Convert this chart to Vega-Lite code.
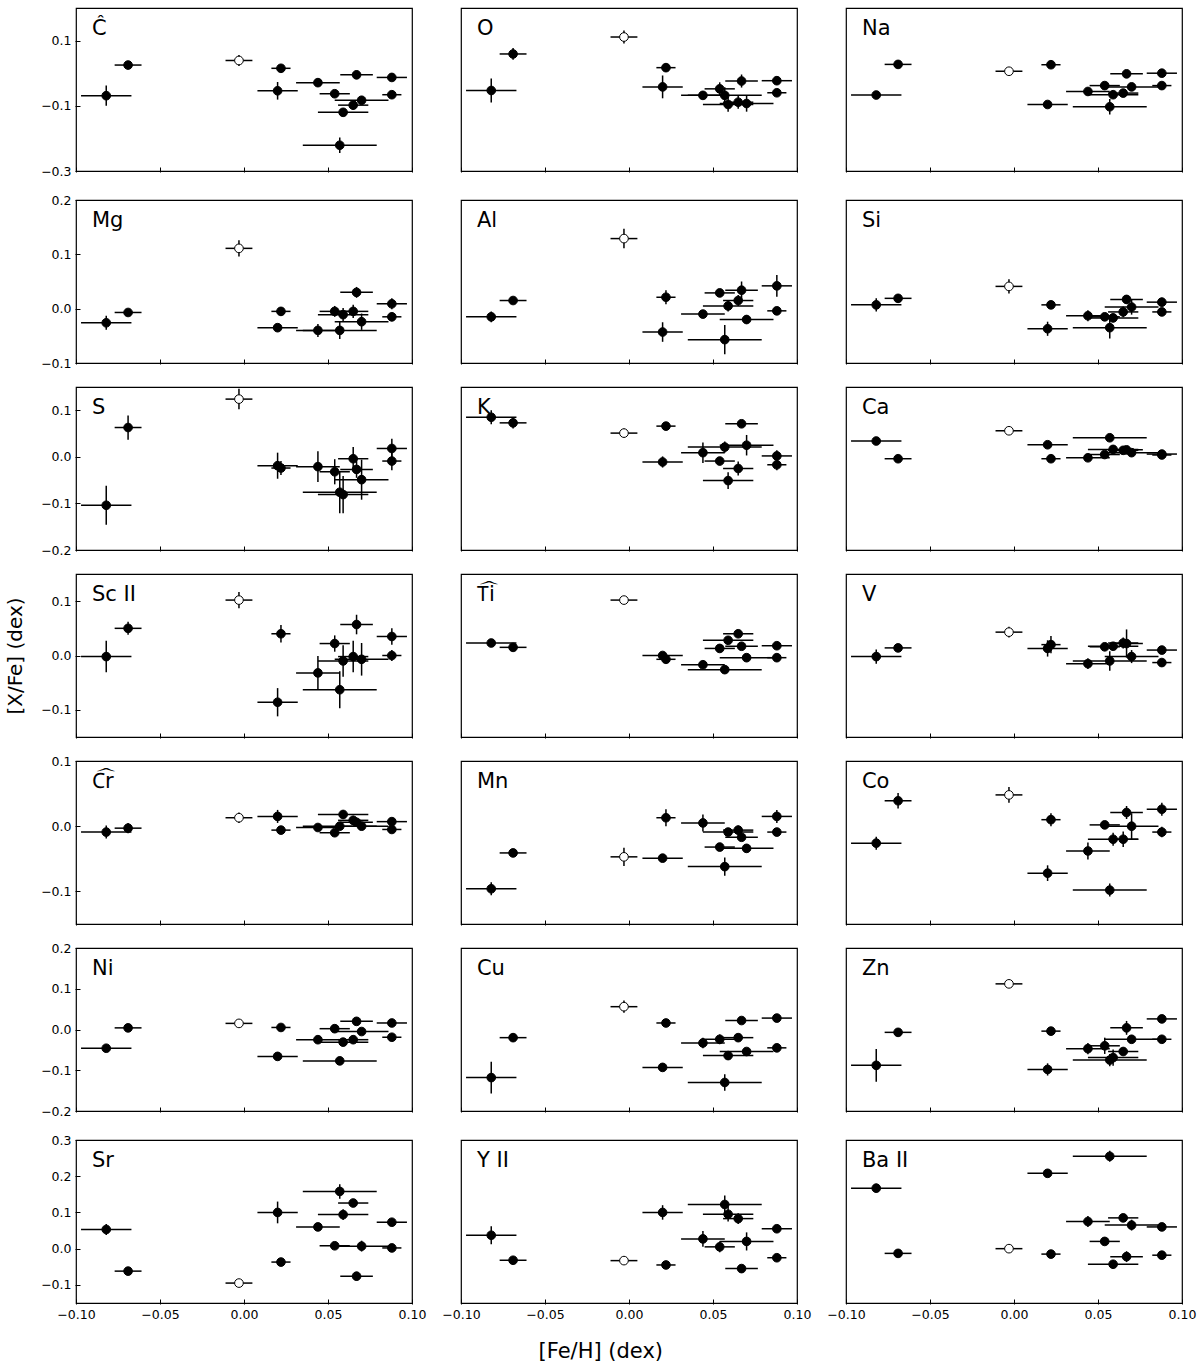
{
"$schema": "https://vega.github.io/schema/vega-lite/v6.json",
"padding": {"left": 5, "top": 7, "right": 17, "bottom": 4},
"background": "white",
"title": {"text": "[Fe/H] (dex)", "orient": "bottom", "anchor": "middle", "fontSize": 21, "fontWeight": "normal", "font": "DejaVu Sans", "offset": 20, "color": "black"},
"datasets": {
"stars": [
{"s":"A","feh":-0.082,"fe":0.015,"open":false},
{"s":"B","feh":-0.069,"fe":0.008,"open":false},
{"s":"O","feh":-0.003,"fe":0.008,"open":true},
{"s":"C","feh":0.020,"fe":0.012,"open":false},
{"s":"D","feh":0.022,"fe":0.0057,"open":false},
{"s":"E","feh":0.044,"fe":0.013,"open":false},
{"s":"F","feh":0.054,"fe":0.009,"open":false},
{"s":"G","feh":0.057,"fe":0.022,"open":false},
{"s":"H","feh":0.059,"fe":0.015,"open":false},
{"s":"I","feh":0.065,"fe":0.009,"open":false},
{"s":"J","feh":0.067,"fe":0.0097,"open":false},
{"s":"K","feh":0.070,"fe":0.016,"open":false},
{"s":"L","feh":0.088,"fe":0.009,"open":false},
{"s":"M","feh":0.088,"fe":0.0057,"open":false}
],
"ab": [
{"e":"C\u0302","s":"A","y":-0.069,"ye":0.031},{"e":"C\u0302","s":"B","y":0.025,"ye":0.008},{"e":"C\u0302","s":"O","y":0.039,"ye":0.017},{"e":"C\u0302","s":"C","y":-0.054,"ye":0.027},{"e":"C\u0302","s":"D","y":0.015,"ye":0.008},{"e":"C\u0302","s":"E","y":-0.029,"ye":0.012},{"e":"C\u0302","s":"F","y":-0.063,"ye":0.008},{"e":"C\u0302","s":"G","y":-0.221,"ye":0.024},{"e":"C\u0302","s":"H","y":-0.120,"ye":0.010},{"e":"C\u0302","s":"I","y":-0.098,"ye":0.014},{"e":"C\u0302","s":"J","y":-0.005,"ye":0.013},{"e":"C\u0302","s":"K","y":-0.083,"ye":0.013},{"e":"C\u0302","s":"L","y":-0.013,"ye":0.010},{"e":"C\u0302","s":"M","y":-0.066,"ye":0.008},
{"e":"O","s":"A","y":-0.053,"ye":0.037},{"e":"O","s":"B","y":0.059,"ye":0.018},{"e":"O","s":"O","y":0.111,"ye":0.020},{"e":"O","s":"C","y":-0.042,"ye":0.035},{"e":"O","s":"D","y":0.017,"ye":0.013},{"e":"O","s":"E","y":-0.068,"ye":0.012},{"e":"O","s":"F","y":-0.048,"ye":0.020},{"e":"O","s":"G","y":-0.068,"ye":0.025},{"e":"O","s":"H","y":-0.096,"ye":0.022},{"e":"O","s":"I","y":-0.089,"ye":0.020},{"e":"O","s":"J","y":-0.024,"ye":0.020},{"e":"O","s":"K","y":-0.093,"ye":0.025},{"e":"O","s":"L","y":-0.023,"ye":0.012},{"e":"O","s":"M","y":-0.060,"ye":0.010},
{"e":"Na","s":"A","y":-0.067,"ye":0.006},{"e":"Na","s":"B","y":0.027,"ye":0.006},{"e":"Na","s":"O","y":0.006,"ye":0.006},{"e":"Na","s":"C","y":-0.096,"ye":0.006},{"e":"Na","s":"D","y":0.026,"ye":0.006},{"e":"Na","s":"E","y":-0.056,"ye":0.012},{"e":"Na","s":"F","y":-0.038,"ye":0.008},{"e":"Na","s":"G","y":-0.103,"ye":0.024},{"e":"Na","s":"H","y":-0.066,"ye":0.008},{"e":"Na","s":"I","y":-0.061,"ye":0.008},{"e":"Na","s":"J","y":-0.002,"ye":0.012},{"e":"Na","s":"K","y":-0.042,"ye":0.008},{"e":"Na","s":"L","y":0.000,"ye":0.008},{"e":"Na","s":"M","y":-0.038,"ye":0.006},
{"e":"Mg","s":"A","y":-0.026,"ye":0.013},{"e":"Mg","s":"B","y":-0.007,"ye":0.005},{"e":"Mg","s":"O","y":0.111,"ye":0.015},{"e":"Mg","s":"C","y":-0.035,"ye":0.005},{"e":"Mg","s":"D","y":-0.005,"ye":0.008},{"e":"Mg","s":"E","y":-0.040,"ye":0.012},{"e":"Mg","s":"F","y":-0.005,"ye":0.010},{"e":"Mg","s":"G","y":-0.040,"ye":0.016},{"e":"Mg","s":"H","y":-0.011,"ye":0.012},{"e":"Mg","s":"I","y":-0.005,"ye":0.012},{"e":"Mg","s":"J","y":0.030,"ye":0.010},{"e":"Mg","s":"K","y":-0.024,"ye":0.015},{"e":"Mg","s":"L","y":0.009,"ye":0.010},{"e":"Mg","s":"M","y":-0.015,"ye":0.008},
{"e":"Al","s":"A","y":-0.015,"ye":0.010},{"e":"Al","s":"B","y":0.015,"ye":0.005},{"e":"Al","s":"O","y":0.129,"ye":0.018},{"e":"Al","s":"C","y":-0.043,"ye":0.018},{"e":"Al","s":"D","y":0.021,"ye":0.013},{"e":"Al","s":"E","y":-0.010,"ye":0.005},{"e":"Al","s":"F","y":0.029,"ye":0.005},{"e":"Al","s":"G","y":-0.057,"ye":0.027},{"e":"Al","s":"H","y":0.005,"ye":0.010},{"e":"Al","s":"I","y":0.015,"ye":0.010},{"e":"Al","s":"J","y":0.034,"ye":0.016},{"e":"Al","s":"K","y":-0.020,"ye":0.008},{"e":"Al","s":"L","y":0.042,"ye":0.020},{"e":"Al","s":"M","y":-0.004,"ye":0.005},
{"e":"Si","s":"A","y":0.007,"ye":0.012},{"e":"Si","s":"B","y":0.019,"ye":0.008},{"e":"Si","s":"O","y":0.041,"ye":0.013},{"e":"Si","s":"C","y":-0.037,"ye":0.013},{"e":"Si","s":"D","y":0.007,"ye":0.005},{"e":"Si","s":"E","y":-0.013,"ye":0.010},{"e":"Si","s":"F","y":-0.015,"ye":0.006},{"e":"Si","s":"G","y":-0.035,"ye":0.020},{"e":"Si","s":"H","y":-0.017,"ye":0.008},{"e":"Si","s":"I","y":-0.006,"ye":0.010},{"e":"Si","s":"J","y":0.017,"ye":0.008},{"e":"Si","s":"K","y":0.003,"ye":0.014},{"e":"Si","s":"L","y":0.012,"ye":0.008},{"e":"Si","s":"M","y":-0.006,"ye":0.006},
{"e":"S","s":"A","y":-0.104,"ye":0.042},{"e":"S","s":"B","y":0.063,"ye":0.026},{"e":"S","s":"O","y":0.124,"ye":0.022},{"e":"S","s":"C","y":-0.019,"ye":0.028},{"e":"S","s":"D","y":-0.024,"ye":0.015},{"e":"S","s":"E","y":-0.021,"ye":0.033},{"e":"S","s":"F","y":-0.032,"ye":0.027},{"e":"S","s":"G","y":-0.076,"ye":0.045},{"e":"S","s":"H","y":-0.081,"ye":0.040},{"e":"S","s":"I","y":-0.004,"ye":0.025},{"e":"S","s":"J","y":-0.027,"ye":0.018},{"e":"S","s":"K","y":-0.049,"ye":0.043},{"e":"S","s":"L","y":0.018,"ye":0.021},{"e":"S","s":"M","y":-0.009,"ye":0.020},
{"e":"K","s":"A","y":0.085,"ye":0.015},{"e":"K","s":"B","y":0.073,"ye":0.012},{"e":"K","s":"O","y":0.051,"ye":0.010},{"e":"K","s":"C","y":-0.011,"ye":0.012},{"e":"K","s":"D","y":0.066,"ye":0.008},{"e":"K","s":"E","y":0.009,"ye":0.022},{"e":"K","s":"F","y":-0.009,"ye":0.008},{"e":"K","s":"G","y":0.021,"ye":0.012},{"e":"K","s":"H","y":-0.051,"ye":0.018},{"e":"K","s":"I","y":-0.025,"ye":0.015},{"e":"K","s":"J","y":0.071,"ye":0.008},{"e":"K","s":"K","y":0.025,"ye":0.022},{"e":"K","s":"L","y":0.002,"ye":0.012},{"e":"K","s":"M","y":-0.017,"ye":0.012},
{"e":"Ca","s":"A","y":0.034,"ye":0.004},{"e":"Ca","s":"B","y":-0.004,"ye":0.004},{"e":"Ca","s":"O","y":0.056,"ye":0.005},{"e":"Ca","s":"C","y":0.026,"ye":0.005},{"e":"Ca","s":"D","y":-0.004,"ye":0.004},{"e":"Ca","s":"E","y":-0.002,"ye":0.005},{"e":"Ca","s":"F","y":0.005,"ye":0.004},{"e":"Ca","s":"G","y":0.041,"ye":0.005},{"e":"Ca","s":"H","y":0.016,"ye":0.004},{"e":"Ca","s":"I","y":0.014,"ye":0.004},{"e":"Ca","s":"J","y":0.015,"ye":0.004},{"e":"Ca","s":"K","y":0.009,"ye":0.004},{"e":"Ca","s":"L","y":0.006,"ye":0.004},{"e":"Ca","s":"M","y":0.004,"ye":0.004},
{"e":"Sc II","s":"A","y":-0.002,"ye":0.029},{"e":"Sc II","s":"B","y":0.050,"ye":0.012},{"e":"Sc II","s":"O","y":0.102,"ye":0.015},{"e":"Sc II","s":"C","y":-0.086,"ye":0.026},{"e":"Sc II","s":"D","y":0.040,"ye":0.016},{"e":"Sc II","s":"E","y":-0.032,"ye":0.031},{"e":"Sc II","s":"F","y":0.022,"ye":0.015},{"e":"Sc II","s":"G","y":-0.063,"ye":0.034},{"e":"Sc II","s":"H","y":-0.010,"ye":0.029},{"e":"Sc II","s":"I","y":-0.002,"ye":0.029},{"e":"Sc II","s":"J","y":0.057,"ye":0.018},{"e":"Sc II","s":"K","y":-0.007,"ye":0.030},{"e":"Sc II","s":"L","y":0.035,"ye":0.015},{"e":"Sc II","s":"M","y":0.000,"ye":0.010},
{"e":"T\u1DCDi","s":"A","y":0.023,"ye":0.006},{"e":"T\u1DCDi","s":"B","y":0.015,"ye":0.006},{"e":"T\u1DCDi","s":"O","y":0.102,"ye":0.007},{"e":"T\u1DCDi","s":"C","y":0.000,"ye":0.005},{"e":"T\u1DCDi","s":"D","y":-0.007,"ye":0.004},{"e":"T\u1DCDi","s":"E","y":-0.017,"ye":0.005},{"e":"T\u1DCDi","s":"F","y":0.013,"ye":0.005},{"e":"T\u1DCDi","s":"G","y":-0.026,"ye":0.007},{"e":"T\u1DCDi","s":"H","y":0.028,"ye":0.005},{"e":"T\u1DCDi","s":"I","y":0.040,"ye":0.005},{"e":"T\u1DCDi","s":"J","y":0.017,"ye":0.005},{"e":"T\u1DCDi","s":"K","y":-0.004,"ye":0.005},{"e":"T\u1DCDi","s":"L","y":0.018,"ye":0.005},{"e":"T\u1DCDi","s":"M","y":-0.004,"ye":0.005},
{"e":"V","s":"A","y":-0.002,"ye":0.013},{"e":"V","s":"B","y":0.014,"ye":0.007},{"e":"V","s":"O","y":0.043,"ye":0.010},{"e":"V","s":"C","y":0.013,"ye":0.015},{"e":"V","s":"D","y":0.020,"ye":0.016},{"e":"V","s":"E","y":-0.015,"ye":0.010},{"e":"V","s":"F","y":0.016,"ye":0.007},{"e":"V","s":"G","y":-0.010,"ye":0.018},{"e":"V","s":"H","y":0.017,"ye":0.007},{"e":"V","s":"I","y":0.023,"ye":0.010},{"e":"V","s":"J","y":0.022,"ye":0.026},{"e":"V","s":"K","y":-0.002,"ye":0.012},{"e":"V","s":"L","y":0.010,"ye":0.006},{"e":"V","s":"M","y":-0.013,"ye":0.006},
{"e":"C\u1DCDr","s":"A","y":-0.009,"ye":0.010},{"e":"C\u1DCDr","s":"B","y":-0.003,"ye":0.008},{"e":"C\u1DCDr","s":"O","y":0.013,"ye":0.008},{"e":"C\u1DCDr","s":"C","y":0.015,"ye":0.010},{"e":"C\u1DCDr","s":"D","y":-0.006,"ye":0.005},{"e":"C\u1DCDr","s":"E","y":-0.002,"ye":0.005},{"e":"C\u1DCDr","s":"F","y":-0.010,"ye":0.005},{"e":"C\u1DCDr","s":"G","y":0.000,"ye":0.006},{"e":"C\u1DCDr","s":"H","y":0.018,"ye":0.007},{"e":"C\u1DCDr","s":"I","y":0.009,"ye":0.007},{"e":"C\u1DCDr","s":"J","y":0.006,"ye":0.006},{"e":"C\u1DCDr","s":"K","y":0.000,"ye":0.006},{"e":"C\u1DCDr","s":"L","y":0.007,"ye":0.005},{"e":"C\u1DCDr","s":"M","y":-0.005,"ye":0.005},
{"e":"Mn","s":"A","y":-0.096,"ye":0.010},{"e":"Mn","s":"B","y":-0.041,"ye":0.004},{"e":"Mn","s":"O","y":-0.047,"ye":0.014},{"e":"Mn","s":"C","y":-0.049,"ye":0.005},{"e":"Mn","s":"D","y":0.013,"ye":0.013},{"e":"Mn","s":"E","y":0.005,"ye":0.013},{"e":"Mn","s":"F","y":-0.032,"ye":0.006},{"e":"Mn","s":"G","y":-0.062,"ye":0.014},{"e":"Mn","s":"H","y":-0.009,"ye":0.006},{"e":"Mn","s":"I","y":-0.006,"ye":0.007},{"e":"Mn","s":"J","y":-0.017,"ye":0.006},{"e":"Mn","s":"K","y":-0.034,"ye":0.006},{"e":"Mn","s":"L","y":0.015,"ye":0.010},{"e":"Mn","s":"M","y":-0.009,"ye":0.005},
{"e":"Co","s":"A","y":-0.026,"ye":0.010},{"e":"Co","s":"B","y":0.039,"ye":0.012},{"e":"Co","s":"O","y":0.048,"ye":0.012},{"e":"Co","s":"C","y":-0.072,"ye":0.012},{"e":"Co","s":"D","y":0.010,"ye":0.010},{"e":"Co","s":"E","y":-0.038,"ye":0.013},{"e":"Co","s":"F","y":0.002,"ye":0.006},{"e":"Co","s":"G","y":-0.098,"ye":0.010},{"e":"Co","s":"H","y":-0.020,"ye":0.010},{"e":"Co","s":"I","y":-0.020,"ye":0.012},{"e":"Co","s":"J","y":0.021,"ye":0.010},{"e":"Co","s":"K","y":0.000,"ye":0.020},{"e":"Co","s":"L","y":0.026,"ye":0.010},{"e":"Co","s":"M","y":-0.009,"ye":0.008},
{"e":"Ni","s":"A","y":-0.046,"ye":0.005},{"e":"Ni","s":"B","y":0.004,"ye":0.005},{"e":"Ni","s":"O","y":0.015,"ye":0.008},{"e":"Ni","s":"C","y":-0.066,"ye":0.005},{"e":"Ni","s":"D","y":0.005,"ye":0.006},{"e":"Ni","s":"E","y":-0.025,"ye":0.005},{"e":"Ni","s":"F","y":0.002,"ye":0.006},{"e":"Ni","s":"G","y":-0.077,"ye":0.010},{"e":"Ni","s":"H","y":-0.031,"ye":0.005},{"e":"Ni","s":"I","y":-0.025,"ye":0.006},{"e":"Ni","s":"J","y":0.020,"ye":0.006},{"e":"Ni","s":"K","y":-0.005,"ye":0.005},{"e":"Ni","s":"L","y":0.016,"ye":0.005},{"e":"Ni","s":"M","y":-0.019,"ye":0.005},
{"e":"Cu","s":"A","y":-0.118,"ye":0.039},{"e":"Cu","s":"B","y":-0.020,"ye":0.010},{"e":"Cu","s":"O","y":0.056,"ye":0.015},{"e":"Cu","s":"C","y":-0.093,"ye":0.005},{"e":"Cu","s":"D","y":0.016,"ye":0.008},{"e":"Cu","s":"E","y":-0.033,"ye":0.013},{"e":"Cu","s":"F","y":-0.024,"ye":0.012},{"e":"Cu","s":"G","y":-0.130,"ye":0.020},{"e":"Cu","s":"H","y":-0.064,"ye":0.010},{"e":"Cu","s":"I","y":-0.020,"ye":0.007},{"e":"Cu","s":"J","y":0.022,"ye":0.005},{"e":"Cu","s":"K","y":-0.054,"ye":0.008},{"e":"Cu","s":"L","y":0.028,"ye":0.005},{"e":"Cu","s":"M","y":-0.045,"ye":0.010},
{"e":"Zn","s":"A","y":-0.088,"ye":0.040},{"e":"Zn","s":"B","y":-0.007,"ye":0.005},{"e":"Zn","s":"O","y":0.112,"ye":0.010},{"e":"Zn","s":"C","y":-0.098,"ye":0.015},{"e":"Zn","s":"D","y":-0.004,"ye":0.010},{"e":"Zn","s":"E","y":-0.047,"ye":0.014},{"e":"Zn","s":"F","y":-0.040,"ye":0.020},{"e":"Zn","s":"G","y":-0.075,"ye":0.015},{"e":"Zn","s":"H","y":-0.069,"ye":0.020},{"e":"Zn","s":"I","y":-0.054,"ye":0.010},{"e":"Zn","s":"J","y":0.004,"ye":0.017},{"e":"Zn","s":"K","y":-0.024,"ye":0.010},{"e":"Zn","s":"L","y":0.026,"ye":0.005},{"e":"Zn","s":"M","y":-0.024,"ye":0.005},
{"e":"Sr","s":"A","y":0.053,"ye":0.015},{"e":"Sr","s":"B","y":-0.062,"ye":0.006},{"e":"Sr","s":"O","y":-0.095,"ye":0.008},{"e":"Sr","s":"C","y":0.100,"ye":0.030},{"e":"Sr","s":"D","y":-0.037,"ye":0.010},{"e":"Sr","s":"E","y":0.060,"ye":0.008},{"e":"Sr","s":"F","y":0.008,"ye":0.010},{"e":"Sr","s":"G","y":0.158,"ye":0.020},{"e":"Sr","s":"H","y":0.094,"ye":0.015},{"e":"Sr","s":"I","y":0.126,"ye":0.010},{"e":"Sr","s":"J","y":-0.076,"ye":0.012},{"e":"Sr","s":"K","y":0.007,"ye":0.015},{"e":"Sr","s":"L","y":0.073,"ye":0.008},{"e":"Sr","s":"M","y":0.002,"ye":0.008},
{"e":"Y II","s":"A","y":0.037,"ye":0.025},{"e":"Y II","s":"B","y":-0.032,"ye":0.010},{"e":"Y II","s":"O","y":-0.033,"ye":0.012},{"e":"Y II","s":"C","y":0.100,"ye":0.020},{"e":"Y II","s":"D","y":-0.045,"ye":0.008},{"e":"Y II","s":"E","y":0.027,"ye":0.022},{"e":"Y II","s":"F","y":0.005,"ye":0.015},{"e":"Y II","s":"G","y":0.122,"ye":0.025},{"e":"Y II","s":"H","y":0.095,"ye":0.020},{"e":"Y II","s":"I","y":0.083,"ye":0.015},{"e":"Y II","s":"J","y":-0.055,"ye":0.010},{"e":"Y II","s":"K","y":0.020,"ye":0.025},{"e":"Y II","s":"L","y":0.055,"ye":0.010},{"e":"Y II","s":"M","y":-0.025,"ye":0.010},
{"e":"Ba II","s":"A","y":0.167,"ye":0.012},{"e":"Ba II","s":"B","y":-0.013,"ye":0.006},{"e":"Ba II","s":"O","y":0.000,"ye":0.008},{"e":"Ba II","s":"C","y":0.208,"ye":0.010},{"e":"Ba II","s":"D","y":-0.015,"ye":0.008},{"e":"Ba II","s":"E","y":0.075,"ye":0.015},{"e":"Ba II","s":"F","y":0.020,"ye":0.008},{"e":"Ba II","s":"G","y":0.255,"ye":0.015},{"e":"Ba II","s":"H","y":-0.043,"ye":0.012},{"e":"Ba II","s":"I","y":0.085,"ye":0.010},{"e":"Ba II","s":"J","y":-0.022,"ye":0.015},{"e":"Ba II","s":"K","y":0.065,"ye":0.015},{"e":"Ba II","s":"L","y":0.060,"ye":0.006},{"e":"Ba II","s":"M","y":-0.018,"ye":0.006}
]
},
"data": {"name": "ab"},
"transform": [{"lookup": "s", "from": {"data": {"name": "stars"}, "key": "s", "fields": ["feh", "fe", "open"]}}],
"spacing": 16,
"vconcat": [
{"transform": [{"filter": {"field": "e", "oneOf": ["C\u0302","O","Na"]}}],
 "facet": {"column": {"field": "e", "type": "nominal", "sort": ["C\u0302","O","Na"], "header": {"labels": false, "title": null}}},
 "spacing": 47,
 "spec": {"width": 336, "height": 163,
  "layer": [
   {"mark": {"type": "errorbar", "color": "black", "thickness": 1.5}, "encoding": {"x": {"field": "feh", "type": "quantitative", "title": null, "scale": {"domain": [-0.1, 0.1], "nice": false, "zero": false}, "axis": {"values": [-0.1,-0.05,0,0.05,0.1], "labels": false}}, "y": {"field": "y", "type": "quantitative", "title": "[X/Fe] (dex)", "scale": {"domain": [-0.3, 0.2], "nice": false, "zero": false}, "axis": {"values": [-0.3,-0.2,-0.1,0,0.1,0.2], "format": ".1f", "titleOpacity": 0, "labelOverlap": false, "labelSeparation": -40}}, "xError": {"field": "fe"}}},
   {"mark": {"type": "errorbar", "color": "black", "thickness": 1.5}, "encoding": {"x": {"field": "feh", "type": "quantitative", "title": null}, "y": {"field": "y", "type": "quantitative", "title": "[X/Fe] (dex)", "axis": {"labelOverlap": false}}, "yError": {"field": "ye"}}},
   {"mark": {"type": "point", "shape": "circle", "filled": true, "size": 75, "stroke": "black", "strokeWidth": 1, "opacity": 1}, "encoding": {"x": {"field": "feh", "type": "quantitative", "title": null}, "y": {"field": "y", "type": "quantitative", "title": "[X/Fe] (dex)", "axis": {"labelOverlap": false}}, "fill": {"condition": {"test": "datum.open", "value": "white"}, "value": "black"}}},
   {"transform": [{"filter": "datum.s == 'A'"}], "mark": {"type": "text", "align": "left", "baseline": "alphabetic", "fontSize": 21, "font": "DejaVu Sans", "color": "black"}, "encoding": {"x": {"datum": -0.0905, "type": "quantitative"}, "y": {"datum": 0.116, "type": "quantitative"}, "text": {"field": "e"}}}
  ]}},
{"transform": [{"filter": {"field": "e", "oneOf": ["Mg","Al","Si"]}}],
 "facet": {"column": {"field": "e", "type": "nominal", "sort": ["Mg","Al","Si"], "header": {"labels": false, "title": null}}},
 "spacing": 47,
 "spec": {"width": 336, "height": 163,
  "layer": [
   {"mark": {"type": "errorbar", "color": "black", "thickness": 1.5}, "encoding": {"x": {"field": "feh", "type": "quantitative", "title": null, "scale": {"domain": [-0.1, 0.1], "nice": false, "zero": false}, "axis": {"values": [-0.1,-0.05,0,0.05,0.1], "labels": false}}, "y": {"field": "y", "type": "quantitative", "title": "[X/Fe] (dex)", "scale": {"domain": [-0.1, 0.2], "nice": false, "zero": false}, "axis": {"values": [-0.1,0,0.1,0.2], "format": ".1f", "titleOpacity": 0}}, "xError": {"field": "fe"}}},
   {"mark": {"type": "errorbar", "color": "black", "thickness": 1.5}, "encoding": {"x": {"field": "feh", "type": "quantitative", "title": null}, "y": {"field": "y", "type": "quantitative", "title": "[X/Fe] (dex)"}, "yError": {"field": "ye"}}},
   {"mark": {"type": "point", "shape": "circle", "filled": true, "size": 75, "stroke": "black", "strokeWidth": 1, "opacity": 1}, "encoding": {"x": {"field": "feh", "type": "quantitative", "title": null}, "y": {"field": "y", "type": "quantitative", "title": "[X/Fe] (dex)"}, "fill": {"condition": {"test": "datum.open", "value": "white"}, "value": "black"}}},
   {"transform": [{"filter": "datum.s == 'A'"}], "mark": {"type": "text", "align": "left", "baseline": "alphabetic", "fontSize": 21, "font": "DejaVu Sans", "color": "black"}, "encoding": {"x": {"datum": -0.0905, "type": "quantitative"}, "y": {"datum": 0.15, "type": "quantitative"}, "text": {"field": "e"}}}
  ]}},
{"transform": [{"filter": {"field": "e", "oneOf": ["S","K","Ca"]}}],
 "facet": {"column": {"field": "e", "type": "nominal", "sort": ["S","K","Ca"], "header": {"labels": false, "title": null}}},
 "spacing": 47,
 "spec": {"width": 336, "height": 163,
  "layer": [
   {"mark": {"type": "errorbar", "color": "black", "thickness": 1.5}, "encoding": {"x": {"field": "feh", "type": "quantitative", "title": null, "scale": {"domain": [-0.1, 0.1], "nice": false, "zero": false}, "axis": {"values": [-0.1,-0.05,0,0.05,0.1], "labels": false}}, "y": {"field": "y", "type": "quantitative", "title": "[X/Fe] (dex)", "scale": {"domain": [-0.2, 0.15], "nice": false, "zero": false}, "axis": {"values": [-0.2,-0.1,0,0.1], "format": ".1f", "titleOpacity": 0}}, "xError": {"field": "fe"}}},
   {"mark": {"type": "errorbar", "color": "black", "thickness": 1.5}, "encoding": {"x": {"field": "feh", "type": "quantitative", "title": null}, "y": {"field": "y", "type": "quantitative", "title": "[X/Fe] (dex)"}, "yError": {"field": "ye"}}},
   {"mark": {"type": "point", "shape": "circle", "filled": true, "size": 75, "stroke": "black", "strokeWidth": 1, "opacity": 1}, "encoding": {"x": {"field": "feh", "type": "quantitative", "title": null}, "y": {"field": "y", "type": "quantitative", "title": "[X/Fe] (dex)"}, "fill": {"condition": {"test": "datum.open", "value": "white"}, "value": "black"}}},
   {"transform": [{"filter": "datum.s == 'A'"}], "mark": {"type": "text", "align": "left", "baseline": "alphabetic", "fontSize": 21, "font": "DejaVu Sans", "color": "black"}, "encoding": {"x": {"datum": -0.0905, "type": "quantitative"}, "y": {"datum": 0.091, "type": "quantitative"}, "text": {"field": "e"}}}
  ]}},
{"transform": [{"filter": {"field": "e", "oneOf": ["Sc II","T\u1DCDi","V"]}}],
 "facet": {"column": {"field": "e", "type": "nominal", "sort": ["Sc II","T\u1DCDi","V"], "header": {"labels": false, "title": null}}},
 "spacing": 47,
 "spec": {"width": 336, "height": 163,
  "layer": [
   {"mark": {"type": "errorbar", "color": "black", "thickness": 1.5}, "encoding": {"x": {"field": "feh", "type": "quantitative", "title": null, "scale": {"domain": [-0.1, 0.1], "nice": false, "zero": false}, "axis": {"values": [-0.1,-0.05,0,0.05,0.1], "labels": false}}, "y": {"field": "y", "type": "quantitative", "title": "[X/Fe] (dex)", "scale": {"domain": [-0.15, 0.15], "nice": false, "zero": false}, "axis": {"values": [-0.1,0,0.1], "format": ".1f", "titleOpacity": 1}}, "xError": {"field": "fe"}}},
   {"mark": {"type": "errorbar", "color": "black", "thickness": 1.5}, "encoding": {"x": {"field": "feh", "type": "quantitative", "title": null}, "y": {"field": "y", "type": "quantitative", "title": "[X/Fe] (dex)"}, "yError": {"field": "ye"}}},
   {"mark": {"type": "point", "shape": "circle", "filled": true, "size": 75, "stroke": "black", "strokeWidth": 1, "opacity": 1}, "encoding": {"x": {"field": "feh", "type": "quantitative", "title": null}, "y": {"field": "y", "type": "quantitative", "title": "[X/Fe] (dex)"}, "fill": {"condition": {"test": "datum.open", "value": "white"}, "value": "black"}}},
   {"transform": [{"filter": "datum.s == 'A'"}], "mark": {"type": "text", "align": "left", "baseline": "alphabetic", "fontSize": 21, "font": "DejaVu Sans", "color": "black"}, "encoding": {"x": {"datum": -0.0905, "type": "quantitative"}, "y": {"datum": 0.0997, "type": "quantitative"}, "text": {"field": "e"}}}
  ]}},
{"transform": [{"filter": {"field": "e", "oneOf": ["C\u1DCDr","Mn","Co"]}}],
 "facet": {"column": {"field": "e", "type": "nominal", "sort": ["C\u1DCDr","Mn","Co"], "header": {"labels": false, "title": null}}},
 "spacing": 47,
 "spec": {"width": 336, "height": 163,
  "layer": [
   {"mark": {"type": "errorbar", "color": "black", "thickness": 1.5}, "encoding": {"x": {"field": "feh", "type": "quantitative", "title": null, "scale": {"domain": [-0.1, 0.1], "nice": false, "zero": false}, "axis": {"values": [-0.1,-0.05,0,0.05,0.1], "labels": false}}, "y": {"field": "y", "type": "quantitative", "title": "[X/Fe] (dex)", "scale": {"domain": [-0.15, 0.1], "nice": false, "zero": false}, "axis": {"values": [-0.1,0,0.1], "format": ".1f", "titleOpacity": 0}}, "xError": {"field": "fe"}}},
   {"mark": {"type": "errorbar", "color": "black", "thickness": 1.5}, "encoding": {"x": {"field": "feh", "type": "quantitative", "title": null}, "y": {"field": "y", "type": "quantitative", "title": "[X/Fe] (dex)"}, "yError": {"field": "ye"}}},
   {"mark": {"type": "point", "shape": "circle", "filled": true, "size": 75, "stroke": "black", "strokeWidth": 1, "opacity": 1}, "encoding": {"x": {"field": "feh", "type": "quantitative", "title": null}, "y": {"field": "y", "type": "quantitative", "title": "[X/Fe] (dex)"}, "fill": {"condition": {"test": "datum.open", "value": "white"}, "value": "black"}}},
   {"transform": [{"filter": "datum.s == 'A'"}], "mark": {"type": "text", "align": "left", "baseline": "alphabetic", "fontSize": 21, "font": "DejaVu Sans", "color": "black"}, "encoding": {"x": {"datum": -0.0905, "type": "quantitative"}, "y": {"datum": 0.058, "type": "quantitative"}, "text": {"field": "e"}}}
  ]}},
{"transform": [{"filter": {"field": "e", "oneOf": ["Ni","Cu","Zn"]}}],
 "facet": {"column": {"field": "e", "type": "nominal", "sort": ["Ni","Cu","Zn"], "header": {"labels": false, "title": null}}},
 "spacing": 47,
 "spec": {"width": 336, "height": 163,
  "layer": [
   {"mark": {"type": "errorbar", "color": "black", "thickness": 1.5}, "encoding": {"x": {"field": "feh", "type": "quantitative", "title": null, "scale": {"domain": [-0.1, 0.1], "nice": false, "zero": false}, "axis": {"values": [-0.1,-0.05,0,0.05,0.1], "labels": false}}, "y": {"field": "y", "type": "quantitative", "title": "[X/Fe] (dex)", "scale": {"domain": [-0.2, 0.2], "nice": false, "zero": false}, "axis": {"values": [-0.2,-0.1,0,0.1,0.2], "format": ".1f", "titleOpacity": 0}}, "xError": {"field": "fe"}}},
   {"mark": {"type": "errorbar", "color": "black", "thickness": 1.5}, "encoding": {"x": {"field": "feh", "type": "quantitative", "title": null}, "y": {"field": "y", "type": "quantitative", "title": "[X/Fe] (dex)"}, "yError": {"field": "ye"}}},
   {"mark": {"type": "point", "shape": "circle", "filled": true, "size": 75, "stroke": "black", "strokeWidth": 1, "opacity": 1}, "encoding": {"x": {"field": "feh", "type": "quantitative", "title": null}, "y": {"field": "y", "type": "quantitative", "title": "[X/Fe] (dex)"}, "fill": {"condition": {"test": "datum.open", "value": "white"}, "value": "black"}}},
   {"transform": [{"filter": "datum.s == 'A'"}], "mark": {"type": "text", "align": "left", "baseline": "alphabetic", "fontSize": 21, "font": "DejaVu Sans", "color": "black"}, "encoding": {"x": {"datum": -0.0905, "type": "quantitative"}, "y": {"datum": 0.133, "type": "quantitative"}, "text": {"field": "e"}}}
  ]}},
{"transform": [{"filter": {"field": "e", "oneOf": ["Sr","Y II","Ba II"]}}],
 "facet": {"column": {"field": "e", "type": "nominal", "sort": ["Sr","Y II","Ba II"], "header": {"labels": false, "title": null}}},
 "spacing": 47,
 "spec": {"width": 336, "height": 163,
  "layer": [
   {"mark": {"type": "errorbar", "color": "black", "thickness": 1.5}, "encoding": {"x": {"field": "feh", "type": "quantitative", "title": null, "scale": {"domain": [-0.1, 0.1], "nice": false, "zero": false}, "axis": {"values": [-0.1,-0.05,0,0.05,0.1], "format": ".2f"}}, "y": {"field": "y", "type": "quantitative", "title": "[X/Fe] (dex)", "scale": {"domain": [-0.15, 0.3], "nice": false, "zero": false}, "axis": {"values": [-0.1,0,0.1,0.2,0.3], "format": ".1f", "titleOpacity": 0}}, "xError": {"field": "fe"}}},
   {"mark": {"type": "errorbar", "color": "black", "thickness": 1.5}, "encoding": {"x": {"field": "feh", "type": "quantitative", "title": null}, "y": {"field": "y", "type": "quantitative", "title": "[X/Fe] (dex)"}, "yError": {"field": "ye"}}},
   {"mark": {"type": "point", "shape": "circle", "filled": true, "size": 75, "stroke": "black", "strokeWidth": 1, "opacity": 1}, "encoding": {"x": {"field": "feh", "type": "quantitative", "title": null}, "y": {"field": "y", "type": "quantitative", "title": "[X/Fe] (dex)"}, "fill": {"condition": {"test": "datum.open", "value": "white"}, "value": "black"}}},
   {"transform": [{"filter": "datum.s == 'A'"}], "mark": {"type": "text", "align": "left", "baseline": "alphabetic", "fontSize": 21, "font": "DejaVu Sans", "color": "black"}, "encoding": {"x": {"datum": -0.0905, "type": "quantitative"}, "y": {"datum": 0.225, "type": "quantitative"}, "text": {"field": "e"}}}
  ]}}
],
"config": {
 "font": "DejaVu Sans",
 "view": {"stroke": "black", "strokeWidth": 1.2},
 "axis": {"domain": false, "grid": false, "tickColor": "black", "tickSize": -5, "tickWidth": 1, "labelColor": "black", "labelFontSize": 12.5, "labelPadding": 9, "labelOverlap": false, "labelFlush": false, "labelBound": false, "titleFontSize": 20, "titleFontWeight": "normal", "titleColor": "black", "titlePadding": 15}
}
}
